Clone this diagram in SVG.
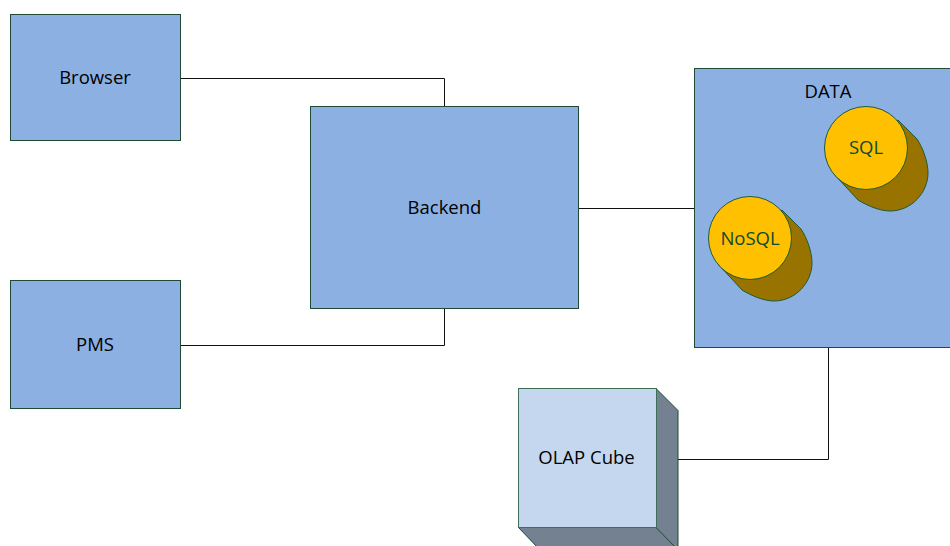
<svg xmlns="http://www.w3.org/2000/svg" width="950" height="546" viewBox="0 0 950 546">
<defs><style>
.box{fill:#8cb0e2;stroke:#1f4a33;stroke-width:1}
.con{fill:none;stroke:#111;stroke-width:1}
text{font-family:"Open Sans","Noto Sans","Liberation Sans",sans-serif;font-size:18.500px;text-anchor:middle;fill:#000}
.cyl{fill:#ffc000;stroke:#1f5a3c;stroke-width:1}
.shade{fill:#987300;stroke:#1f5a3c;stroke-width:1}
.cubef{fill:#c5d7ef;stroke:#3f6f58;stroke-width:1}
.cubes{fill:#748190;stroke:#1f4a33;stroke-width:1}
.dark{fill:#0f4a35}
</style>
<path id="cylshade" d="M-32,26 L-8,52 C2,58 14,63 24,63 C46,63 62,44 62,25 C62,14 57,0 51,-9 L32,-28 Z"/>
</defs>
<g id="connectors">
<path class="con" d="M181,78.500H444.500V107"/>
<path class="con" d="M181,345.500H444.500V308"/>
<path class="con" d="M578,208.500H694"/>
<path class="con" d="M828.500,347V459.500H678"/>
</g>
<g id="browser"><rect class="box" x="10.500" y="14.500" width="170" height="126"/><text x="95" y="84">Browser</text></g>
<g id="pms"><rect class="box" x="10.500" y="280.500" width="170" height="128"/><text x="95" y="351">PMS</text></g>
<g id="backend"><rect class="box" x="310.500" y="106.500" width="268" height="202"/><text x="444.500" y="214">Backend</text></g>
<g id="data"><rect class="box" x="694.500" y="68.500" width="262" height="279"/><text x="828" y="98">DATA</text></g>
<g id="sql"><use href="#cylshade" class="shade" x="866" y="148"/><circle class="cyl" cx="866" cy="148" r="41.500"/><text class="dark" x="866" y="154">SQL</text></g>
<g id="nosql"><use href="#cylshade" class="shade" x="750" y="238"/><circle class="cyl" cx="750" cy="238" r="41.500"/><text class="dark" x="750" y="245">NoSQL</text></g>
<g id="olap"><path class="cubes" d="M656,388.500L678,410.500V550H540L518.500,527.500Z"/><path fill="none" stroke="#1f4a33" d="M656,527.500L678,550"/><rect class="cubef" x="518.500" y="388.500" width="138" height="139"/><text x="586.500" y="464">OLAP Cube</text></g>
</svg>
